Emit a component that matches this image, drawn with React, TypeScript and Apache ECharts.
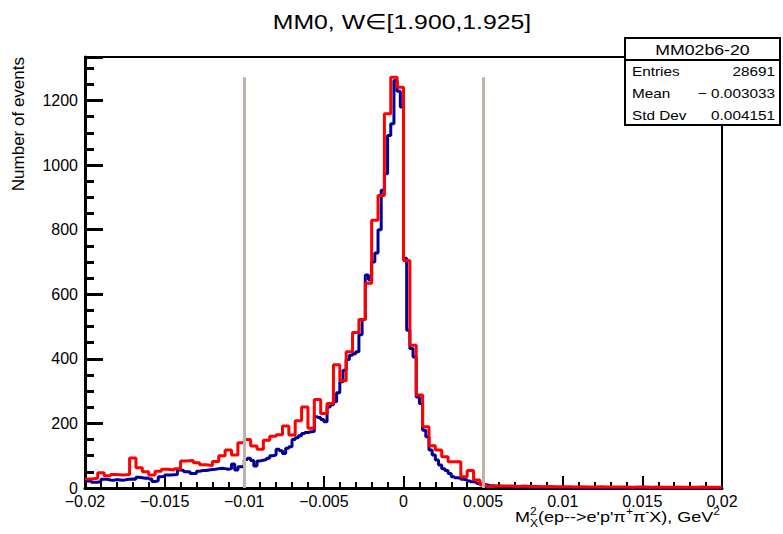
import React, { useEffect, useRef } from "react";
import * as echarts from "echarts";

// ---------- data ----------
const X_MIN = -0.02;
const X_MAX = 0.02;
const Y_MAX = 1335;
const xTickStep = 0.005;
const xMinorSplit = 5;
const yTickStep = 200;
const yMinorStep = 50;

// blue histogram: 200 bins of 0.0002
const blueCounts = [
  22, 22, 18, 18, 20, 27, 27, 25, 24, 26,
  25, 24, 26, 27, 28, 27, 33, 32, 30, 31,
  28, 20, 22, 35, 36, 40, 40, 41, 42, 56,
  54, 50, 50, 45, 45, 52, 54, 54, 56, 57,
  58, 60, 61, 60, 58, 60, 74, 56, 66, 66,
  88, 92, 85, 68, 84, 86, 88, 92, 100, 102,
  120, 115, 107, 123, 128, 150, 156, 162, 169, 172,
  174, 175, 221, 218, 212, 205, 251, 258, 267, 295,
  329, 365, 398, 411, 416, 422, 475, 522, 660, 645,
  700, 728, 800, 922, 973, 1092, 1128, 1262, 1229, 1180,
  712, 489, 432, 406, 282, 262, 179, 159, 118, 102,
  87, 71, 60, 54, 45, 35, 32, 30, 27, 25,
  22, 19, 17, 14, 12, 10, 8, 7, 6, 5,
  5, 4, 4, 3, 3, 3, 2, 2, 3, 2,
  2, 2, 1, 2, 1, 1, 2, 1, 1, 1,
  1, 1, 0, 1, 1, 0, 1, 0, 1, 1,
  0, 1, 0, 0, 1, 0, 1, 0, 0, 1,
  0, 0, 1, 0, 0, 0, 1, 0, 0, 0,
  0, 1, 0, 0, 0, 0, 0, 1, 0, 0,
  0, 0, 0, 0, 1, 0, 0, 0, 0, 0,
];

// red histogram: 100 bins of 0.0004
const redCounts = [
  28, 30, 47, 38, 42, 40, 42, 93, 63, 50,
  40, 52, 58, 56, 60, 84, 85, 78, 72, 70,
  82, 100, 118, 102, 140, 150, 130, 120, 148, 160,
  165, 192, 164, 208, 251, 185, 274, 231, 262, 382,
  332, 422, 482, 522, 634, 829, 906, 1159, 1272, 1241,
  705, 442, 288, 190, 131, 118, 97, 81, 81, 35,
  54, 25, 9, 5, 7, 6, 6, 5, 6, 5,
  5, 4, 5, 4, 4, 4, 3, 4, 3, 3,
  4, 3, 3, 3, 3, 2, 3, 3, 2, 3,
  2, 2, 3, 2, 2, 2, 3, 2, 2, 2,
];

const cutLines = [-0.01, 0.005];
const cutLineTop = 1272;

const titleText = "MM0, W\u2208[1.900,1.925]";
const yTitle = "Number of events";
const statsName = "MM02b6-20";
const statsLabels = ["Entries", "Mean", "Std Dev"];
const statsValues = ["28691", "\u2212 0.003033", "0.004151"];

// ---------- helpers ----------
const FONT = '"Liberation Sans", Arial, Helvetica, sans-serif';

function histPoints(counts: number[]) {
  const w = (X_MAX - X_MIN) / counts.length;
  const pts: number[][] = counts.map((c, i) => [X_MIN + i * w, c]);
  pts.push([X_MAX, counts[counts.length - 1]]);
  return pts;
}

function fmtX(v: number) {
  const r = Math.round(v * 1e6) / 1e6;
  if (r === 0) return "0";
  const s = String(Math.abs(r));
  return r < 0 ? "\u2212" + s : s;
}

function measure(text: string, size: number) {
  const c = document.createElement("canvas").getContext("2d");
  if (!c) return text.length * size * 0.55;
  c.font = `${size}px ${FONT}`;
  return c.measureText(text).width;
}

function txt(text: string, x: number, y: number, size: number, align: string, valign: string, extra: any = {}) {
  return {
    type: "text",
    x,
    y,
    ...extra,
    style: {
      text,
      fill: "#000",
      fontSize: size,
      fontFamily: FONT,
      align,
      textAlign: align,
      verticalAlign: valign,
      textVerticalAlign: valign,
    },
  };
}

function xTitleGroup() {
  const big = 15;
  const small = 10;
  const segs = [
    { t: "M", s: big, dy: 0, adv: true },
    { t: "2", s: small, dy: -6, adv: false },
    { t: "X", s: small, dy: 6, adv: true },
    { t: "(ep-->e'p'\u03c0", s: big, dy: 0, adv: true },
    { t: "+", s: small, dy: -6, adv: true },
    { t: "\u03c0", s: big, dy: 0, adv: true },
    { t: "-", s: small, dy: -6, adv: true },
    { t: "X), GeV", s: big, dy: 0, adv: true },
    { t: "2", s: small, dy: -6, adv: true },
  ];
  let xpos = 0;
  const items: any[] = [];
  for (const sg of segs) {
    items.push({ sg, x: xpos });
    if (sg.adv) xpos += measure(sg.t, sg.s);
  }
  const total = xpos;
  const children = items.map(({ sg, x }) =>
    txt(sg.t, x - total, sg.dy, sg.s, "left", "middle")
  );
  return {
    type: "group",
    x: 720,
    y: 517,
    scaleX: 1.2,
    children,
  };
}

export default function App() {
  const ref = useRef<HTMLDivElement>(null);
  useEffect(() => {
    if (!ref.current) return;
    const chart = echarts.init(ref.current, null, { renderer: "svg", width: 783, height: 534 });

    const boxX = 625;
    const boxY = 38;
    const boxW = 155;
    const boxH = 87;
    const headH = 22;
    const rowY = [71, 93, 115];

    const statsGraphics: any[] = [
      {
        type: "rect",
        shape: { x: boxX, y: boxY, width: boxW, height: boxH },
        style: { fill: "#fff", stroke: "#000", lineWidth: 2 },
        z: 100,
      },
      {
        type: "line",
        shape: { x1: boxX, y1: boxY + headH, x2: boxX + boxW, y2: boxY + headH },
        style: { stroke: "#000", lineWidth: 2 },
        z: 101,
      },
      { ...txt(statsName, boxX + boxW / 2, boxY + headH / 2 + 1, 15, "center", "middle", { scaleX: 1.18 }), z: 102 },
      ...statsLabels.map((l, i) => ({
        ...txt(l, boxX + 7, rowY[i], 13, "left", "middle", { scaleX: 1.18 }),
        z: 102,
      })),
      ...statsValues.map((v, i) => ({
        ...txt(v, boxX + boxW - 5, rowY[i], 13, "right", "middle", { scaleX: 1.18 }),
        z: 102,
      })),
    ];

    const option: any = {
      animation: false,
      textStyle: { fontFamily: FONT },
      grid: {
        left: 85,
        right: 61,
        top: 57,
        bottom: 46,
        show: true,
        borderColor: "#000",
        borderWidth: 2,
        backgroundColor: "transparent",
      },
      xAxis: {
        type: "value",
        min: X_MIN,
        max: X_MAX,
        interval: xTickStep,
        axisLine: { show: true, onZero: false, lineStyle: { color: "#000", width: 3 } },
        axisTick: { show: true, inside: true, length: 12, lineStyle: { color: "#000", width: 2 } },
        minorTick: { show: true, splitNumber: xMinorSplit, length: 6, lineStyle: { color: "#000", width: 2 } },
        splitLine: { show: false },
        minorSplitLine: { show: false },
        axisLabel: {
          color: "#000",
          fontSize: 16,
          margin: 5,
          fontFamily: FONT,
          formatter: fmtX,
          showMinLabel: true,
          showMaxLabel: true,
          hideOverlap: false,
        },
      },
      yAxis: [
        {
          type: "value",
          min: 0,
          max: Y_MAX,
          interval: yTickStep,
          position: "left",
          axisLine: { show: true, onZero: false, lineStyle: { color: "#000", width: 3 } },
          axisTick: { show: true, inside: true, length: 18, lineStyle: { color: "#000", width: 3 } },
          splitLine: { show: false },
          axisLabel: {
            color: "#000",
            fontSize: 16,
            margin: 7,
            fontFamily: FONT,
            formatter: (v: number) => (v % yTickStep === 0 ? String(v) : ""),
          },
        },
        {
          type: "value",
          min: 0,
          max: Y_MAX,
          interval: yMinorStep,
          position: "left",
          axisLine: { show: false, onZero: false },
          axisTick: { show: true, inside: true, length: 9, lineStyle: { color: "#000", width: 3 } },
          splitLine: { show: false },
          axisLabel: { show: false },
        },
      ],
      series: [
        {
          type: "line",
          name: "blue",
          step: "end",
          showSymbol: false,
          symbol: "none",
          yAxisIndex: 0,
          data: histPoints(blueCounts),
          lineStyle: { color: "#000099", width: 3 },
          z: 2,
        },
        {
          type: "line",
          name: "red",
          step: "end",
          showSymbol: false,
          symbol: "none",
          yAxisIndex: 0,
          data: histPoints(redCounts),
          lineStyle: { color: "#ff0000", width: 3 },
          z: 3,
        },
        {
          type: "line",
          name: "cuts",
          yAxisIndex: 0,
          data: [],
          z: 4,
          markLine: {
            silent: true,
            symbol: "none",
            label: { show: false },
            lineStyle: { color: "#bdb5ad", width: 3, type: "solid" },
            data: cutLines.map((c) => [{ coord: [c, 0] }, { coord: [c, cutLineTop] }]),
          },
        },
      ],
      graphic: [
        { ...txt(titleText, 402, 22, 21, "center", "middle", { scaleX: 1.18 }), z: 50 },
        { ...txt(yTitle, 18, 57, 17, "right", "middle", { rotation: Math.PI / 2 }), z: 50 },
        { ...xTitleGroup(), z: 50 },
        ...statsGraphics,
      ],
    };

    chart.setOption(option);
    return () => chart.dispose();
  }, []);

  return (
    <div
      ref={ref}
      style={{ position: "fixed", left: 0, top: 0, width: 783, height: 534, background: "#fff" }}
    />
  );
}
